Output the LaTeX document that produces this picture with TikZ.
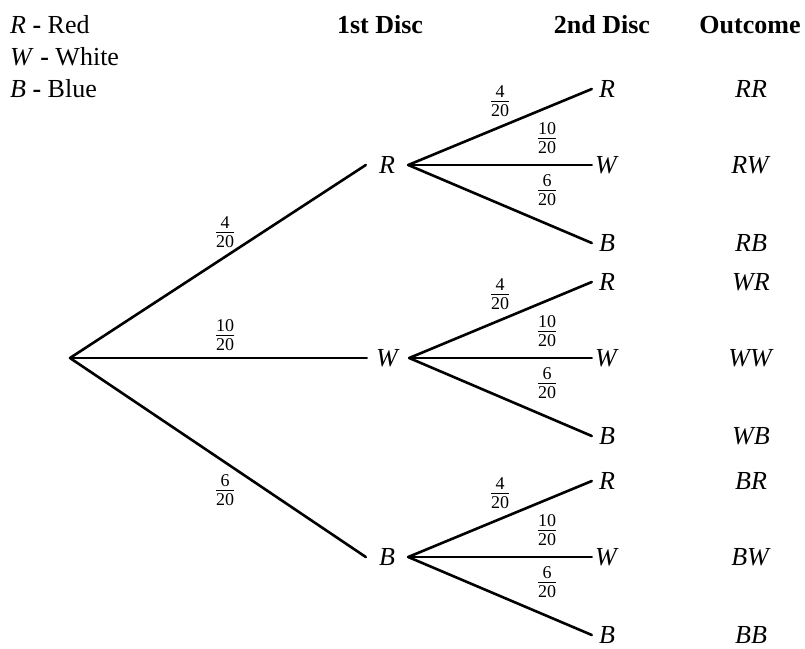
\documentclass[tikz,border=0pt]{standalone}
\usepackage{fontspec}
% Times-metric serif face, loaded by file when available
\IfFontExistsTF{LiberationSerif-Regular.ttf}{%
  \setmainfont{LiberationSerif}[Extension=.ttf,
    UprightFont=*-Regular, BoldFont=*-Bold,
    ItalicFont=*-Italic, BoldItalicFont=*-BoldItalic]}{%
  \setmainfont{Liberation Serif}}
% probability written as a small stacked fraction in the text face
\newcommand\pfrac[2]{$\frac{\mbox{\fontsize{18}{20}\selectfont #1}}{\mbox{\fontsize{18}{20}\selectfont #2}}$}
\begin{document}
\begin{tikzpicture}[x=1pt,y=-1pt,
  txt/.style={inner sep=0pt, font=\fontsize{26}{31}\selectfont},
  firstnode/.style={txt, minimum width=42pt},
  secondnode/.style={txt, minimum width=30pt},
  outcome/.style={txt},
  head/.style={inner sep=0pt, anchor=base, font=\fontsize{26}{31}\selectfont\bfseries},
  legend/.style={txt, anchor=base west},
  prob/.style={inner sep=0pt, font=\fontsize{26}{31}\selectfont},
  branch/.style={line width=2.6pt, line cap=round}
]
\useasboundingbox (0,0) rectangle (805,648);

% key and column headings
\node[legend] (keyR) at (10,33) {\textit{R} \textbf{-} Red};
\node[legend] (keyW) at (10,65) {\textit{W} \textbf{-} White};
\node[legend] (keyB) at (10,97) {\textit{B} \textbf{-} Blue};
\node[head] (h1) at (380,33) {1st Disc};
\node[head] (h2) at (602,33) {2nd Disc};
\node[head] (h3) at (750,33) {Outcome};

% first draw
\coordinate (O) at (70,358);
\node[firstnode] (R1) at (387,165) {\textit{R}};
\node[firstnode] (W1) at (388,358) {\textit{W}};
\node[firstnode] (B1) at (387,557) {\textit{B}};
\draw[branch] (O) -- (R1.west);
\draw[branch] (O) -- (W1.west);
\draw[branch] (O) -- (B1.west);
\node[prob] (p1) at (225,232) {\pfrac{4}{20}};
\node[prob] (p2) at (225,335) {\pfrac{10}{20}};
\node[prob] (p3) at (225,490) {\pfrac{6}{20}};

% second draw, one fan per first colour
\foreach \g/\V in {R/165, W/358, B/557} {
  \node[secondnode] (\g R) at (607,\V-76) {\textit{R}};
  \node[secondnode] (\g W) at (607,\V)    {\textit{W}};
  \node[secondnode] (\g B) at (607,\V+78) {\textit{B}};
  \draw[branch] (\g1.east) -- (\g R.west);
  \draw[branch] (\g1.east) -- (\g W.west);
  \draw[branch] (\g1.east) -- (\g B.west);
  \node[prob] (\g pR) at (500,\V-64) {\pfrac{4}{20}};
  \node[prob] (\g pW) at (547,\V-27) {\pfrac{10}{20}};
  \node[prob] (\g pB) at (547,\V+25) {\pfrac{6}{20}};
  \node[outcome] (\g oR) at (751,\V-76) {\textit{\g R}};
  \node[outcome] (\g oW) at (751,\V)    {\textit{\g W}};
  \node[outcome] (\g oB) at (751,\V+78) {\textit{\g B}};
}
\end{tikzpicture}
\end{document}
